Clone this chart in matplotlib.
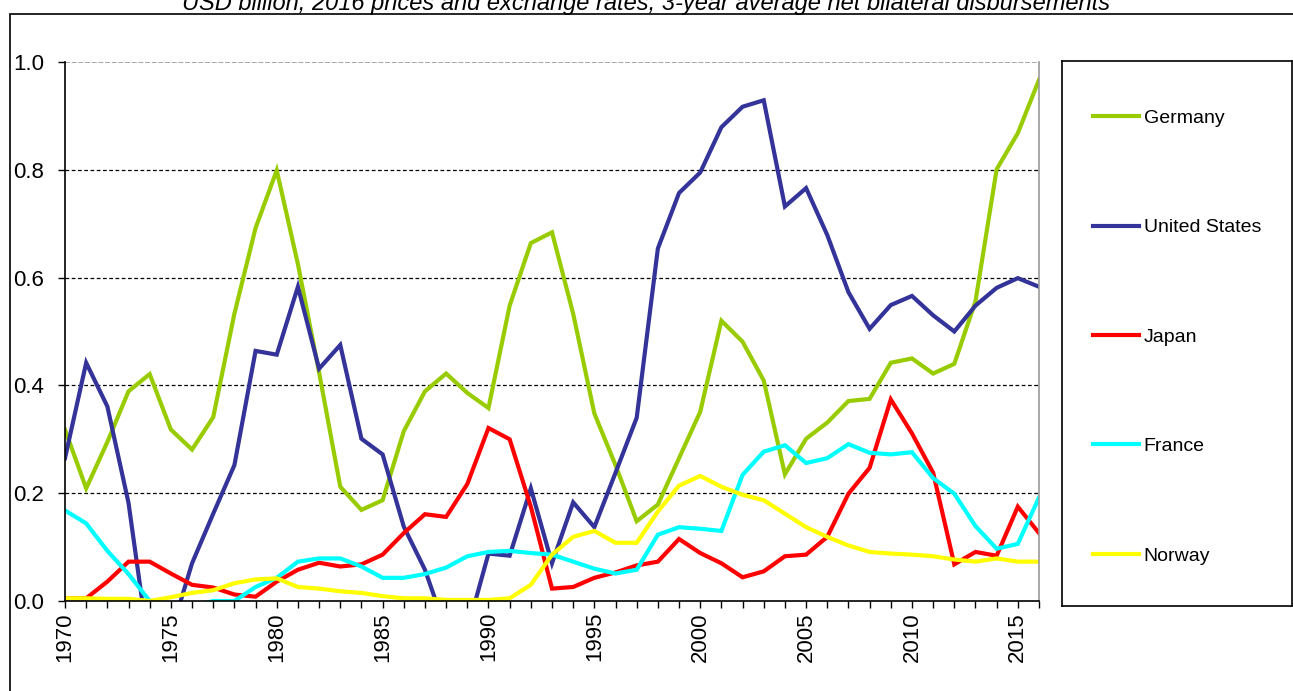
import matplotlib
matplotlib.use("Agg")
import matplotlib.pyplot as plt
from matplotlib.patches import Rectangle

plt.rcParams['font.family'] = ['Liberation Sans', 'DejaVu Sans']

years = list(range(1970, 2017))

germany = [0.318, 0.209, 0.295, 0.389, 0.421, 0.318, 0.281, 0.341, 0.533, 0.692,
           0.799, 0.625, 0.424, 0.212, 0.169, 0.187, 0.315, 0.389, 0.422, 0.386,
           0.358, 0.548, 0.664, 0.684, 0.533, 0.348, 0.252, 0.148, 0.179, 0.265,
           0.351, 0.520, 0.481, 0.409, 0.235, 0.301, 0.331, 0.371, 0.375, 0.442,
           0.450, 0.422, 0.440, 0.556, 0.801, 0.868, 0.967]

united_states = [0.265, 0.442, 0.361, 0.182, -0.100, -0.060, 0.070, 0.162, 0.252, 0.464,
                 0.457, 0.583, 0.431, 0.475, 0.301, 0.272, 0.138, 0.058, -0.055, -0.054,
                 0.088, 0.084, 0.209, 0.070, 0.183, 0.137, 0.238, 0.340, 0.654, 0.757,
                 0.795, 0.879, 0.917, 0.929, 0.732, 0.766, 0.679, 0.573, 0.505, 0.549,
                 0.566, 0.530, 0.500, 0.548, 0.581, 0.599, 0.583]

japan = [0.005, 0.005, 0.036, 0.073, 0.073, 0.051, 0.030, 0.025, 0.012, 0.008,
         0.036, 0.058, 0.071, 0.064, 0.068, 0.086, 0.126, 0.161, 0.156, 0.217,
         0.321, 0.300, 0.175, 0.023, 0.026, 0.043, 0.053, 0.066, 0.073, 0.115,
         0.089, 0.070, 0.044, 0.055, 0.083, 0.086, 0.119, 0.199, 0.247, 0.374,
         0.311, 0.238, 0.068, 0.091, 0.084, 0.175, 0.126]

france = [0.168, 0.144, 0.093, 0.050, 0.000, -0.020, -0.010, 0.000, 0.000, 0.026,
          0.043, 0.073, 0.079, 0.079, 0.064, 0.043, 0.043, 0.050, 0.062, 0.083,
          0.091, 0.093, 0.089, 0.086, 0.073, 0.060, 0.051, 0.058, 0.123, 0.137,
          0.134, 0.130, 0.234, 0.277, 0.289, 0.256, 0.265, 0.291, 0.275, 0.272,
          0.276, 0.228, 0.199, 0.139, 0.097, 0.106, 0.192]

norway = [0.005, 0.005, 0.004, 0.004, 0.000, 0.007, 0.015, 0.020, 0.033, 0.040,
          0.042, 0.026, 0.023, 0.018, 0.015, 0.009, 0.005, 0.005, 0.002, 0.002,
          0.002, 0.005, 0.030, 0.086, 0.119, 0.130, 0.108, 0.108, 0.166, 0.214,
          0.232, 0.212, 0.197, 0.187, 0.162, 0.137, 0.119, 0.103, 0.091, 0.088,
          0.086, 0.083, 0.077, 0.073, 0.079, 0.073, 0.073]

series_names = ["Germany", "United States", "Japan", "France", "Norway"]
series_values = [germany, united_states, japan, france, norway]
series_colors = ["#99CC00", "#333399", "#FF0000", "#00FFFF", "#FFFF00"]

y_ticks = [0.0, 0.2, 0.4, 0.6, 0.8, 1.0]
x_label_years = list(range(1970, 2016, 5))

title = "USD billion, 2016 prices and exchange rates, 3-year average net bilateral disbursements"

W, H = 1293, 691
fig = plt.figure(figsize=(W / 100, H / 100), dpi=100)

# outer frame
fig.patches.append(Rectangle((10 / W, -0.05), 1.2, 1 - 14 / H + 0.05,
                             transform=fig.transFigure, fill=False,
                             edgecolor="black", lw=1.2))

ax = fig.add_axes([65 / W, 1 - 601 / H, (1039 - 65) / W, (601 - 62) / H])

lines = []
for name, vals, col in zip(series_names, series_values, series_colors):
    ln, = ax.plot(years, vals, color=col, lw=3.0, label=name, solid_joinstyle="miter")
    lines.append(ln)

ax.set_xlim(1970, 2016)
ax.set_ylim(0, 1.0)
ax.set_yticks(y_ticks)
ax.set_yticklabels([f"{v:.1f}" for v in y_ticks], fontsize=16)
ax.set_xticks(years, minor=True)
ax.set_xticks(x_label_years)
ax.set_xticklabels([str(y) for y in x_label_years], rotation=90, fontsize=16)
ax.tick_params(axis="x", which="both", direction="out", length=5, width=1, pad=3)
ax.tick_params(axis="y", direction="out", length=5, width=1, pad=10)

for v in y_ticks[1:-1]:
    ax.axhline(v, color="black", lw=0.9, ls=(0, (3, 2)), zorder=0.5)
ax.axhline(1.0, color="#999999", lw=1.2, ls=(0, (3, 1)), zorder=0.5)

ax.spines["top"].set_visible(False)
ax.spines["right"].set_color("#999999")
ax.spines["right"].set_linewidth(1.2)
ax.spines["left"].set_linewidth(1.2)
ax.spines["bottom"].set_linewidth(1.2)

fig.text(0.5, 1 - 10 / H, title, ha="center", va="baseline",
         fontsize=17, style="italic")

# legend box
lax = fig.add_axes([1062 / W, 1 - 606 / H, (1292 - 1062) / W, (606 - 61) / H])
lax.set_xticks([])
lax.set_yticks([])
for s in lax.spines.values():
    s.set_linewidth(1.2)
lax.patch.set_alpha(0)
leg = lax.legend(handles=lines, labels=series_names, loc="center left",
                 bbox_to_anchor=(0, 0.5 - 3.5 / 545), frameon=False, fontsize=14,
                 handlelength=2.35, handletextpad=0.25, labelspacing=4.72,
                 borderpad=0, borderaxespad=1.6)

fig.savefig("out.png", dpi=100)
